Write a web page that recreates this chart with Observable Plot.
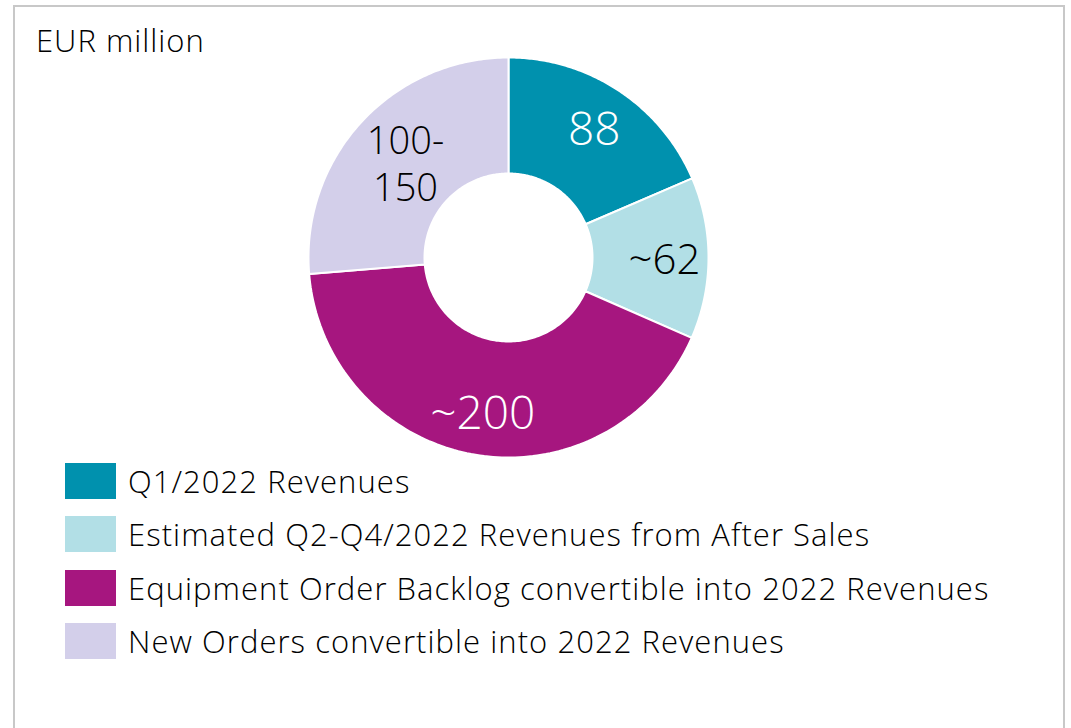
<!DOCTYPE html>
<html><head><meta charset="utf-8">
<script src="https://cdn.jsdelivr.net/npm/d3@7"></script>
<script src="https://cdn.jsdelivr.net/npm/@observablehq/plot@0.6"></script>
<style>
html,body{margin:0;padding:0;background:#fff;}
#page{position:relative;width:1071px;height:728px;overflow:hidden;font-family:"Open Sans",sans-serif;font-weight:300;color:#000;}
#frame{position:absolute;left:13px;top:5px;width:1048px;height:760px;border:2px solid #c8c8c8;}
#unit{position:absolute;left:36px;top:18px;font-size:31px;line-height:44px;letter-spacing:1px;}
#chart{position:absolute;left:298px;top:47px;}
#legend{position:absolute;left:65px;top:463px;}
.row{display:flex;align-items:center;height:36px;margin-bottom:17.3px;}
.sw{width:51px;height:36px;margin-right:12px;}
.lt{font-size:31px;letter-spacing:1.05px;white-space:nowrap;}
</style></head>
<body><div id="page"><div id="frame"></div><div id="unit">EUR million</div><div id="chart"></div><div id="legend"></div></div>
<script>
const categories = ["Q1/2022 Revenues","Estimated Q2-Q4/2022 Revenues from After Sales","Equipment Order Backlog convertible into 2022 Revenues","New Orders convertible into 2022 Revenues"];
const values = [88, 62, 200, 125];
const labels = ["88", "~62", "~200", "100-\n150"];
const colors = ["#0091ae", "#b2dfe6", "#a6167f", "#d3cfea"];
const labelOnDark = [true, false, true, false];

const inner = 0.42, outer = 1;
const total = d3.sum(values);
const pts = [], lab = [];
let acc = 0;
values.forEach((v, i) => {
  const a0 = acc / total * 2 * Math.PI, a1 = (acc + v) / total * 2 * Math.PI;
  acc += v;
  const n = 120;
  for (let k = 0; k <= n; k++) { const a = a0 + (a1 - a0) * k / n; pts.push({cat: categories[i], x: outer * Math.sin(a), y: outer * Math.cos(a)}); }
  for (let k = n; k >= 0; k--) { const a = a0 + (a1 - a0) * k / n; pts.push({cat: categories[i], x: inner * Math.sin(a), y: inner * Math.cos(a)}); }
  const m = (a0 + a1) / 2;
  const labelR = i === 3 ? 0.70 : 0.78;
  lab.push({text: labels[i], x: labelR * Math.sin(m), y: labelR * Math.cos(m), dark: labelOnDark[i], size: i === 3 ? 38 : (i === 1 ? 42 : 46)});
});

const chart = Plot.plot({
  width: 420, height: 420, margin: 10,
  x: {domain: [-1, 1], axis: null},
  y: {domain: [-1, 1], axis: null},
  color: {domain: categories, range: colors},
  style: {background: "transparent", fontFamily: "Open Sans, sans-serif"},
  marks: [
    Plot.line(pts, {x: "x", y: "y", z: "cat", fill: "cat", stroke: "white", strokeWidth: 2, curve: "linear-closed"}),
    ...lab.map(d => Plot.text([d], {x: "x", y: "y", text: "text", fill: d.dark ? "white" : "black", fontSize: d.size, fontWeight: 300, lineHeight: 1.22}))
  ]
});
document.getElementById("chart").appendChild(chart);

const leg = document.getElementById("legend");
categories.forEach((c, i) => {
  const r = document.createElement("div"); r.className = "row";
  r.innerHTML = `<div class="sw" style="background:${colors[i]}"></div><div class="lt">${c}</div>`;
  leg.appendChild(r);
});
</script></body></html>
